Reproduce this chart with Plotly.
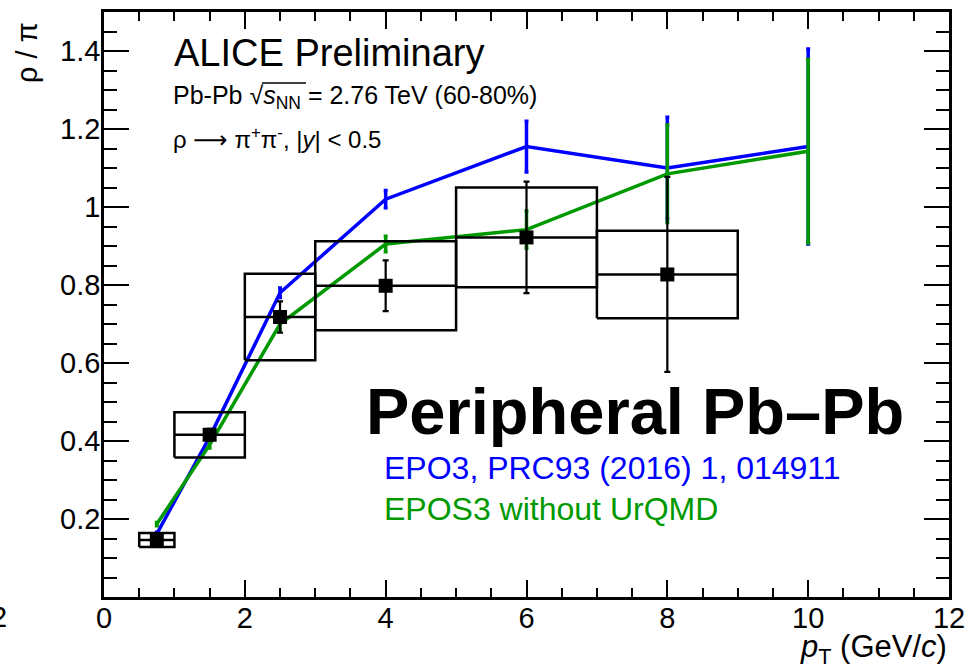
import plotly.graph_objects as go

# ---------------- data ----------------
data_x = [0.75, 1.5, 2.5, 4.0, 6.0, 8.0]
data_xlo = [0.5, 1.0, 2.0, 3.0, 5.0, 7.0]
data_xhi = [1.0, 2.0, 3.0, 5.0, 7.0, 9.0]
data_y = [0.146, 0.416, 0.718, 0.798, 0.922, 0.827]
data_stat = [0.008, 0.015, 0.04, 0.065, 0.143, 0.25]
data_sys = [0.018, 0.058, 0.111, 0.114, 0.128, 0.112]

model_x = [0.75, 1.5, 2.5, 4.0, 6.0, 8.0, 10.0]
epo3_y = [0.162, 0.41, 0.78, 1.02, 1.155, 1.10, 1.155]
epo3_err = [0.004, 0.008, 0.012, 0.022, 0.065, 0.13, 0.25]
noU_y = [0.187, 0.39, 0.70, 0.905, 0.942, 1.085, 1.143]
noU_err = [0.004, 0.008, 0.015, 0.02, 0.048, 0.125, 0.235]

y_tickvals = [0.2, 0.4, 0.6, 0.8, 1.0, 1.2, 1.4]
y_ticktext = ["0.2", "0.4", "0.6", "0.8", "1", "1.2", "1.4"]
x_tickvals = [0, 2, 4, 6, 8, 10, 12]
x_ticktext = ["0", "2", "4", "6", "8", "10", "12"]

BLUE = "#0000ff"
GREEN = "#009900"
FONT = "Liberation Sans, Arial, Helvetica, sans-serif"

fig = go.Figure()

# model curves
fig.add_trace(go.Scatter(
    x=model_x, y=epo3_y, mode="lines",
    line=dict(color=BLUE, width=3.5),
    error_y=dict(type="data", array=epo3_err, color=BLUE, thickness=3.5, width=2),
    showlegend=False, hoverinfo="skip"))
fig.add_trace(go.Scatter(
    x=model_x, y=noU_y, mode="lines",
    line=dict(color=GREEN, width=3.5),
    error_y=dict(type="data", array=noU_err, color=GREEN, thickness=3.5, width=2),
    showlegend=False, hoverinfo="skip"))

# systematic boxes built from data
bx, by = [], []
for lo, hi, y, s in zip(data_xlo, data_xhi, data_y, data_sys):
    bx += [lo, hi, hi, lo, lo, None]
    by += [y - s, y - s, y + s, y + s, y - s, None]
fig.add_trace(go.Scatter(x=bx, y=by, mode="lines",
                         line=dict(color="black", width=2.5),
                         showlegend=False, hoverinfo="skip"))

# data points
xerr = [hi - x for x, hi in zip(data_x, data_xhi)]
fig.add_trace(go.Scatter(
    x=data_x, y=data_y, mode="markers",
    marker=dict(symbol="square", size=14, color="black"),
    error_x=dict(type="data", array=xerr, color="black", thickness=2.5, width=0),
    error_y=dict(type="data", array=data_stat, color="black", thickness=2.2, width=3),
    showlegend=False, hoverinfo="skip"))

axis_common = dict(
    showline=True, linecolor="black", linewidth=2.5, mirror="ticks",
    ticks="inside", tickcolor="black", tickwidth=2,
    showgrid=False, zeroline=False, automargin=False,
    tickfont=dict(family=FONT, size=29, color="black"),
)

fig.update_xaxes(range=[0, 12], tickmode="array", tickvals=x_tickvals, ticktext=x_ticktext,
                 ticklen=17, ticklabelstandoff=-7,
                 minor=dict(ticks="inside", ticklen=9, tickwidth=2, tickcolor="black",
                            tickmode="linear", tick0=0, dtick=0.5),
                 **axis_common)
fig.update_yaxes(range=[0, 1.5], tickmode="array", tickvals=y_tickvals, ticktext=y_ticktext,
                 ticklen=25, ticklabelstandoff=-5,
                 minor=dict(ticks="inside", ticklen=13, tickwidth=2, tickcolor="black",
                            tickmode="linear", tick0=0, dtick=0.05),
                 **axis_common)

W, H = 970, 670
L, R, T, B = 104, 21, 12, 73
PW, PH = W - L - R, H - T - B


def px(x):
    return (x - L) / PW


def py(y):
    return (H - B - y) / PH


ann = []
def add(text, x, y, size, color="black", xanchor="left", yanchor="middle", angle=0, bold=False):
    if bold:
        text = "<b>" + text + "</b>"
    ann.append(dict(text=text, x=px(x), y=py(y), xref="paper", yref="paper",
                    xanchor=xanchor, yanchor=yanchor, showarrow=False, textangle=angle,
                    font=dict(family=FONT, size=size, color=color)))

add("ALICE Preliminary", 172, 53, 38)
add("Pb-Pb √<i>s</i><sub>NN</sub> = 2.76 TeV (60-80%)", 171, 97, 25)
add("ρ <span style='font-family:DejaVu Sans'>⟶</span> π<sup>+</sup>π<sup>-</sup>, |<i>y</i>| &lt; 0.5",
    171, 138, 24)
add("Peripheral Pb–Pb", 364, 411, 65, bold=True)
add("EPO3, PRC93 (2016) 1, 014911", 382, 468, 32, color=BLUE)
add("EPOS3 without UrQMD", 382, 509, 32, color=GREEN)
add("ρ / π", 27, 53, 29, xanchor="center", angle=-90)
add("<i>p</i><sub>T</sub> (GeV/<i>c</i>)", 949, 649, 31, xanchor="right")
add("2", 9, 617, 29, xanchor="right")
fig.update_layout(annotations=ann)

# overline of the square root
fig.add_shape(type="line", xref="paper", yref="paper",
              x0=px(262), x1=px(306), y0=py(83), y1=py(83),
              line=dict(color="black", width=1.5))

fig.update_layout(width=W, height=H, margin=dict(l=L, r=R, t=T, b=B, pad=0),
                  plot_bgcolor="white", paper_bgcolor="white",
                  font=dict(family=FONT, color="black"))

fig.write_html("out.html")
